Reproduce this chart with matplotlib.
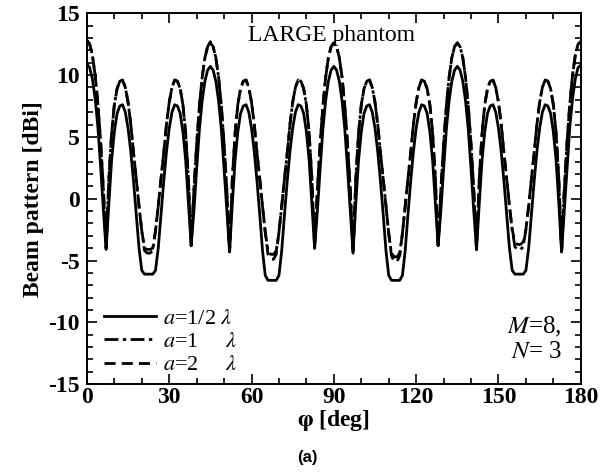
import numpy as np
import matplotlib
matplotlib.use("Agg")
import matplotlib.pyplot as plt
from matplotlib.ticker import MultipleLocator

plt.rcParams['font.family'] = ['Liberation Serif', 'DejaVu Serif']
plt.rcParams['mathtext.fontset'] = 'stix'
plt.rcParams['axes.unicode_minus'] = False

# azimuth angle [deg], 1 deg step
phi = np.arange(0, 181)

# a = 1/2 lambda (solid)
g_half = [
    10.9, 10.6, 9.7, 8.1, 5.8, 2.6, -0.9, -4.1, -0.4, 3.1,
    5.4, 6.9, 7.5, 7.6, 7.0, 5.7, 3.8, 1.4, -1.3, -4.0,
    -5.8, -6.1, -6.1, -6.1, -6.1, -5.8, -4.0, -1.3, 1.4, 3.8,
    5.7, 7.0, 7.6, 7.5, 6.9, 5.4, 3.1, -0.4, -3.8, -1.0,
    2.4, 5.6, 7.9, 9.5, 10.4, 10.7, 10.4, 9.5, 7.9, 5.6,
    2.4, -1.0, -4.3, -0.4, 3.1, 5.4, 6.9, 7.5, 7.6, 7.0,
    5.7, 3.8, 1.4, -1.3, -4.2, -6.2, -6.6, -6.6, -6.6, -6.6,
    -6.2, -4.2, -1.3, 1.4, 3.8, 5.7, 7.0, 7.6, 7.5, 6.9,
    5.4, 3.1, -0.4, -4.0, -1.0, 2.4, 5.6, 7.9, 9.5, 10.4,
    10.7, 10.4, 9.5, 7.9, 5.6, 2.4, -1.0, -4.4, -0.4, 3.1,
    5.4, 6.9, 7.5, 7.6, 7.0, 5.7, 3.8, 1.4, -1.3, -4.2,
    -6.2, -6.6, -6.6, -6.6, -6.6, -6.2, -4.2, -1.3, 1.4, 3.8,
    5.7, 7.0, 7.6, 7.5, 6.9, 5.4, 3.1, -0.4, -3.8, -1.0,
    2.4, 5.6, 7.9, 9.5, 10.4, 10.7, 10.4, 9.5, 7.9, 5.6,
    2.4, -1.0, -4.1, -0.4, 3.1, 5.4, 6.9, 7.5, 7.6, 7.0,
    5.7, 3.8, 1.4, -1.3, -4.0, -5.8, -6.1, -6.1, -6.1, -6.1,
    -5.8, -4.0, -1.3, 1.4, 3.8, 5.7, 7.0, 7.6, 7.5, 6.9,
    5.4, 3.1, -0.4, -4.3, -0.9, 2.6, 5.8, 8.1, 9.7, 10.6,
    10.8,
]

# a = 1 lambda (dash-dot)
g_one = [
    12.8, 12.5, 11.6, 10.0, 7.7, 4.6, 0.8, -4.0, 1.6, 5.3,
    7.6, 8.9, 9.5, 9.6, 9.0, 7.8, 6.0, 3.7, 1.6, -0.6,
    -2.6, -4.2, -4.4, -4.4, -4.2, -2.6, -0.6, 1.6, 3.7, 6.0,
    7.8, 9.0, 9.6, 9.5, 8.9, 7.6, 5.3, 1.6, -3.8, 0.7,
    4.4, 7.5, 9.8, 11.4, 12.3, 12.7, 12.3, 11.4, 9.8, 7.5,
    4.4, 0.7, -4.3, 1.6, 5.3, 7.6, 8.9, 9.5, 9.6, 9.0,
    7.8, 6.0, 3.7, 1.6, -0.6, -2.7, -4.2, -4.5, -4.5, -4.2,
    -2.7, -0.6, 1.6, 3.7, 6.0, 7.8, 9.0, 9.6, 9.5, 8.9,
    7.6, 5.3, 1.6, -4.0, 0.7, 4.4, 7.5, 9.8, 11.4, 12.3,
    12.6, 12.3, 11.4, 9.8, 7.5, 4.4, 0.7, -4.4, 1.6, 5.3,
    7.6, 8.9, 9.5, 9.6, 9.0, 7.8, 6.0, 3.7, 1.6, -0.6,
    -2.8, -4.4, -4.7, -4.7, -4.4, -2.8, -0.6, 1.6, 3.7, 6.0,
    7.8, 9.0, 9.6, 9.5, 8.9, 7.6, 5.3, 1.6, -3.8, 0.7,
    4.4, 7.5, 9.8, 11.4, 12.3, 12.6, 12.3, 11.4, 9.8, 7.5,
    4.4, 0.7, -4.1, 1.6, 5.3, 7.6, 8.9, 9.5, 9.6, 9.0,
    7.8, 6.0, 3.7, 1.6, -0.6, -2.5, -3.9, -4.1, -4.1, -3.9,
    -2.5, -0.6, 1.6, 3.7, 6.0, 7.8, 9.0, 9.6, 9.5, 8.9,
    7.6, 5.3, 1.6, -4.3, 0.8, 4.6, 7.7, 10.0, 11.6, 12.5,
    12.7,
]

# a = 2 lambda (dashed)
g_two = [
    12.8, 12.5, 11.6, 10.0, 7.7, 4.6, 0.8, -4.0, 1.6, 5.3,
    7.6, 8.9, 9.5, 9.6, 9.0, 7.8, 6.0, 3.7, 1.6, -0.6,
    -2.6, -4.0, -4.1, -4.1, -4.0, -2.6, -0.6, 1.6, 3.7, 6.0,
    7.8, 9.0, 9.6, 9.5, 8.9, 7.6, 5.3, 1.6, -3.8, 0.7,
    4.4, 7.5, 9.8, 11.4, 12.3, 12.6, 12.3, 11.4, 9.8, 7.5,
    4.4, 0.7, -4.3, 1.6, 5.3, 7.6, 8.9, 9.5, 9.6, 9.0,
    7.8, 6.0, 3.7, 1.6, -0.6, -2.7, -4.5, -4.9, -4.9, -4.5,
    -2.7, -0.6, 1.6, 3.7, 6.0, 7.8, 9.0, 9.6, 9.5, 8.9,
    7.6, 5.3, 1.6, -4.0, 0.7, 4.4, 7.5, 9.8, 11.4, 12.3,
    12.6, 12.3, 11.4, 9.8, 7.5, 4.4, 0.7, -4.4, 1.6, 5.3,
    7.6, 8.9, 9.5, 9.6, 9.0, 7.8, 6.0, 3.7, 1.6, -0.6,
    -2.8, -4.6, -5.1, -5.1, -4.6, -2.8, -0.6, 1.6, 3.7, 6.0,
    7.8, 9.0, 9.6, 9.5, 8.9, 7.6, 5.3, 1.6, -3.8, 0.7,
    4.4, 7.5, 9.8, 11.4, 12.3, 12.6, 12.3, 11.4, 9.8, 7.5,
    4.4, 0.7, -4.1, 1.6, 5.3, 7.6, 8.9, 9.5, 9.6, 9.0,
    7.8, 6.0, 3.7, 1.6, -0.6, -2.5, -3.5, -3.7, -3.7, -3.5,
    -2.5, -0.6, 1.6, 3.7, 6.0, 7.8, 9.0, 9.6, 9.5, 8.9,
    7.6, 5.3, 1.6, -4.3, 0.8, 4.6, 7.7, 10.0, 11.6, 12.5,
    12.7,
]

labels = [r'$a$=1/2 $\lambda$', r'$a$=1     $\lambda$', r'$a$=2     $\lambda$']

fig = plt.figure(figsize=(6.12, 4.72), dpi=100)
ax = fig.add_axes([0.142, 0.186, 0.807, 0.786])

ax.plot(phi, g_half, color='black', lw=2.0, ls='-', label=labels[0])
ax.plot(phi, g_one, color='black', lw=2.0, ls=(0, (5, 1.6, 1.2, 1.6)), label=labels[1])
ax.plot(phi, g_two, color='black', lw=2.0, ls=(0, (4, 2.2)), label=labels[2])

ax.set_xlim(0, 180)
ax.set_ylim(-15, 15)
ax.xaxis.set_major_locator(MultipleLocator(30))
ax.xaxis.set_minor_locator(MultipleLocator(10))
ax.yaxis.set_major_locator(MultipleLocator(5))
ax.yaxis.set_minor_locator(MultipleLocator(1))
ax.tick_params(which='both', direction='in', top=True, right=True, width=1.2)
ax.tick_params(which='major', length=7, labelsize=17)
ax.tick_params(axis='x', which='major', pad=2)
ax.tick_params(axis='y', which='major', pad=5)
ax.tick_params(which='minor', length=4)
for lab in ax.get_xticklabels() + ax.get_yticklabels():
    lab.set_fontweight('bold')
for s in ax.spines.values():
    s.set_linewidth(1.4)

ax.set_xlabel(r'$\boldsymbol{\varphi}$ [deg]', fontsize=17, fontweight='bold', labelpad=0)
ax.set_ylabel('Beam pattern [dBi]', fontsize=17, fontweight='bold', labelpad=3)

ax.text(89.3, 13.2, 'LARGE phantom', ha='center', va='center', fontsize=17)
ax.text(173, -10.4, r'$M$=8,', ha='right', va='center', fontsize=18)
ax.text(173, -12.4, r'$N$= 3', ha='right', va='center', fontsize=18)

ax.legend(loc='lower left', frameon=False, fontsize=16, handlelength=2.35,
          handletextpad=0.3, labelspacing=0.12, borderaxespad=0.0,
          bbox_to_anchor=(0.016, 0.0))

fig.text(0.502, 0.03, '(a)', ha='center', va='center', fontsize=12,
         fontweight='bold', family='Liberation Sans')

fig.savefig('out.png', dpi=100)
